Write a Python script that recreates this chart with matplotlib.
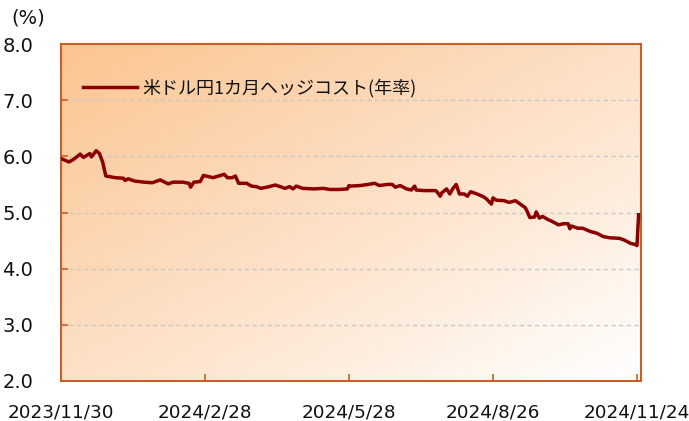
import numpy as np
import pandas as pd
import matplotlib
matplotlib.use("Agg")
import matplotlib.pyplot as plt
from matplotlib.colors import LinearSegmentedColormap

plt.rcParams['font.family'] = ['DejaVu Sans', 'Noto Sans CJK JP']

# ---- data ----
start_date = "2023-11-30"
day_offsets = [0, 5, 8, 12, 14, 18, 19, 22, 24, 26, 28, 34, 39, 40, 42, 46, 52, 57, 62, 67,
               70, 76, 80, 81, 83, 87, 89, 95, 102, 104, 107, 109, 111, 116, 119, 122, 125, 130, 134, 137,
               140, 143, 145, 147, 151, 158, 164, 168, 174, 179, 180, 181, 187, 192, 196, 199, 204, 207, 209, 212,
               216, 219, 221, 222, 227, 234, 235, 237, 238, 241, 243, 245, 247, 249, 252, 254, 256, 260, 264, 266,
               269, 270, 272, 277, 280, 284, 287, 290, 291, 293, 296, 297, 299, 301, 304, 307, 311, 314, 317, 318,
               319, 323, 326, 331, 335, 339, 343, 349, 352, 356, 359, 360, 361]
hedge_cost = [5.96, 5.90, 5.95, 6.04, 5.98, 6.05, 5.99, 6.10, 6.05, 5.90, 5.65, 5.62, 5.61, 5.57, 5.60, 5.56, 5.54, 5.53, 5.58, 5.51,
              5.54, 5.54, 5.52, 5.45, 5.54, 5.55, 5.66, 5.62, 5.68, 5.62, 5.62, 5.65, 5.52, 5.52, 5.47, 5.46, 5.43, 5.46, 5.49, 5.46,
              5.43, 5.46, 5.42, 5.47, 5.43, 5.42, 5.43, 5.41, 5.41, 5.42, 5.48, 5.47, 5.48, 5.50, 5.52, 5.48, 5.50, 5.50, 5.45, 5.48,
              5.42, 5.40, 5.47, 5.40, 5.39, 5.39, 5.37, 5.29, 5.35, 5.42, 5.33, 5.43, 5.50, 5.33, 5.33, 5.29, 5.37, 5.33, 5.28, 5.24,
              5.15, 5.26, 5.22, 5.21, 5.18, 5.21, 5.15, 5.09, 5.04, 4.91, 4.92, 5.01, 4.90, 4.93, 4.88, 4.84, 4.78, 4.80, 4.80, 4.71,
              4.76, 4.72, 4.72, 4.66, 4.63, 4.57, 4.55, 4.54, 4.51, 4.45, 4.43, 4.41, 4.96]
series_label = "米ドル円1カ月ヘッジコスト(年率)"
x_tick_dates = ["2023-11-30", "2024-02-28", "2024-05-28", "2024-08-26", "2024-11-24"]
x_tick_labels = ["2023/11/30", "2024/2/28", "2024/5/28", "2024/8/26", "2024/11/24"]
y_ticks = [2.0, 3.0, 4.0, 5.0, 6.0, 7.0, 8.0]
y_unit = "(%)"

dates = pd.Timestamp(start_date) + pd.to_timedelta(day_offsets, unit="D")

# ---- figure ----
fig = plt.figure(figsize=(6.89, 4.21), dpi=100)
ax = fig.add_axes([61/689, 40/421, 580/689, 337/421])

spine_color = "#C5602A"

# diagonal gradient background
gx, gy = np.meshgrid(np.linspace(0, 1, 300), np.linspace(0, 1, 200))
t = (gx + gy) / 2.0
cmap = LinearSegmentedColormap.from_list("bg", ["#FBC591", "#FDE0C6", "#FFFFFF"])
ax.imshow(t, cmap=cmap, extent=[0, 1, 0, 1], transform=ax.transAxes,
          aspect="auto", origin="upper", zorder=0, interpolation="bicubic")

ax.plot(dates, hedge_cost, color="#8B0000", lw=2.5, label=series_label, zorder=3)

ax.set_ylim(2.0, 8.0)
ax.set_yticks(y_ticks)
ax.set_yticklabels([f"{v:.1f}" for v in y_ticks])
ax.set_xlim(pd.Timestamp(start_date), pd.Timestamp(start_date) + pd.Timedelta(days=362.5))
ax.set_xticks(pd.to_datetime(x_tick_dates))
ax.set_xticklabels(x_tick_labels)

for y in y_ticks[1:-1]:
    ax.axhline(y, color="#C8C8C8", lw=1.0, ls=(0, (3, 2.5)), zorder=1)

for s in ax.spines.values():
    s.set_color(spine_color)
    s.set_linewidth(1.5)

ax.tick_params(axis="both", direction="in", color=spine_color, length=5, width=1.2,
               labelcolor="#111111")
ax.tick_params(axis="x", pad=16, labelsize=13.2)
ax.tick_params(axis="y", pad=20, labelsize=14)

fig.text(28/689, 1 - 18/421, y_unit, ha="center", va="center", fontsize=14, color="#111111")

leg = ax.legend(loc="center left", bbox_to_anchor=(0.025, 0.869), frameon=False,
                handlelength=3.0, handletextpad=0.3, borderaxespad=0,
                prop={"family": ["Noto Sans CJK JP"], "size": 13})
for txt in leg.get_texts():
    txt.set_color("#111111")

fig.savefig("out.png", dpi=100)
